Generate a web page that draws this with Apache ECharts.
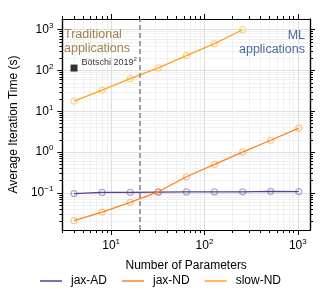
<!DOCTYPE html>
<html><head><meta charset="utf-8">
<script src="https://cdn.jsdelivr.net/npm/echarts@6/dist/echarts.min.js"></script>
<style>html,body{margin:0;padding:0;background:#fff}#c{width:330px;height:300px}</style>
</head><body><div id="c"></div>
<script>
const params = [4, 8, 16, 32, 64, 128, 256, 512, 1024];
const jaxAD = [0.097, 0.103, 0.104, 0.105, 0.106, 0.106, 0.107, 0.110, 0.108];
const jaxND = [0.021, 0.034, 0.059, 0.107, 0.25, 0.5, 1.0, 1.96, 3.9];
const slowParams = [4, 8, 16, 32, 64, 128, 256];
const slowND = [17.9, 33, 63, 116, 232, 457, 1000];
const botschi = [[4, 115]];
const dividerX = 20;
const xMajor = [10, 100, 1000];
const yMajor = [0.1, 1, 10, 100, 1000];

function minors(lo, hi) {
  const out = [];
  for (let e = lo; e <= hi; e++) for (let m = 2; m <= 9; m++) out.push(m * Math.pow(10, e));
  return out;
}
const xMinor = minors(0, 3).filter(v => v >= 3 && v <= 1350);
const yMinor = minors(-2, 3).filter(v => v >= 0.0124 && v <= 1830);

const FONT = 'Liberation Sans';
const C_AD = '#5e3c99', C_ND = '#ff8317', C_SLOW = '#ffa31f';
const fmt = v => { const e = Math.round(Math.log10(v)); return '10{e|' + (e < 0 ? '\u2212' + (-e) : e) + '}'; };
const rich = { e: { fontSize: 8, padding: [0, 0, 8, 0], fontFamily: FONT, color: '#000' } };
const X = { min: 3, max: 1350, type: 'log', logBase: 10 };
const Y = { min: 0.0124, max: 1830, type: 'log', logBase: 10 };

function ax(base, pos, major, showLabel, isX, name) {
  return Object.assign({}, base, {
    position: pos, gridIndex: 0,
    name: name || '', nameLocation: 'middle', nameGap: isX ? 30 : 27,
    nameTextStyle: { fontFamily: FONT, fontSize: 12, color: '#000' },
    axisLine: { show: true, onZero: false, lineStyle: { color: '#000', width: 1.2 } },
    axisTick: { show: true, length: major ? 5 : 3, inside: false, customValues: major ? (isX ? xMajor : yMajor) : (isX ? xMinor : yMinor), lineStyle: { color: '#000', width: 1 } },
    axisLabel: { show: showLabel, customValues: isX ? xMajor : yMajor, formatter: fmt, rich: rich, fontFamily: FONT, fontSize: 12, color: '#000', margin: isX ? 8 : 9 },
    splitLine: { show: showLabel || (!major && (pos === 'bottom' || pos === 'left')), lineStyle: { color: major ? '#dedede' : '#eeeeee', width: major ? 1 : 0.8 } },
    minorTick: { show: false }, minorSplitLine: { show: false }
  });
}

const chart = echarts.init(document.getElementById('c'), null, { renderer: 'canvas' });
chart.setOption({
  animation: false,
  backgroundColor: '#fff',
  grid: { left: 61, right: 20, top: 19, bottom: 70, containLabel: false },
  xAxis: [
    ax(X, 'bottom', false, false, true),
    ax(X, 'bottom', true, true, true, 'Number of Parameters'),
    ax(X, 'top', false, false, true),
    ax(X, 'top', true, false, true)
  ],
  yAxis: [
    ax(Y, 'left', false, false, false),
    ax(Y, 'left', true, true, false, 'Average Iteration Time (s)'),
    ax(Y, 'right', false, false, false),
    ax(Y, 'right', true, false, false)
  ],
  legend: {
    bottom: 8, left: 35, itemGap: 15, itemWidth: 22, itemHeight: 1.5, icon: 'rect',
    textStyle: { fontFamily: FONT, fontSize: 12, color: '#000', padding: [0, 0, 0, 4] },
    data: [
      { name: 'jax-AD', itemStyle: { color: C_AD, borderWidth: 0 } },
      { name: 'jax-ND', itemStyle: { color: C_ND, borderWidth: 0 } },
      { name: 'slow-ND', itemStyle: { color: C_SLOW, borderWidth: 0 } }
    ]
  },
  series: [
    {
      name: 'jax-AD', type: 'line', xAxisIndex: 1, yAxisIndex: 1,
      data: params.map((p, i) => [p, jaxAD[i]]),
      symbol: 'circle', symbolSize: 6, showAllSymbol: true,
      lineStyle: { color: C_AD, width: 1.3 },
      itemStyle: { color: 'rgba(255,255,255,0)', borderColor: 'rgba(94,60,153,0.45)', borderWidth: 1.2 },
      z: 3
    },
    {
      name: 'jax-ND', type: 'line', xAxisIndex: 1, yAxisIndex: 1,
      data: params.map((p, i) => [p, jaxND[i]]),
      symbol: 'circle', symbolSize: 6, showAllSymbol: true,
      lineStyle: { color: C_ND, width: 1.3 },
      itemStyle: { color: 'rgba(255,255,255,0)', borderColor: 'rgba(255,131,23,0.45)', borderWidth: 1.2 },
      z: 4,
      markLine: {
        silent: true, symbol: 'none', label: { show: false },
        lineStyle: { color: '#8a8a8a', type: [5, 3], width: 1.6 },
        data: [{ xAxis: dividerX }]
      }
    },
    {
      name: 'slow-ND', type: 'line', xAxisIndex: 1, yAxisIndex: 1,
      data: slowParams.map((p, i) => [p, slowND[i]]),
      symbol: 'circle', symbolSize: 6, showAllSymbol: true,
      lineStyle: { color: C_SLOW, width: 1.3 },
      itemStyle: { color: 'rgba(255,255,255,0)', borderColor: 'rgba(255,163,31,0.45)', borderWidth: 1.2 },
      z: 4
    },
    {
      name: 'Bötschi', type: 'scatter', xAxisIndex: 1, yAxisIndex: 1,
      data: botschi, symbol: 'rect', symbolSize: 7,
      itemStyle: { color: '#000' },
      label: {
        show: true, position: 'right', distance: 4, offset: [0, -6],
        formatter: 'Bötschi 2019{s|2}',
        fontFamily: FONT, fontSize: 9, color: '#000',
        rich: { s: { fontSize: 6, padding: [0, 0, 6, 0], fontFamily: FONT, color: '#000' } }
      },
      z: 5
    }
  ],
  graphic: [
    { type: 'text', x: 64, y: 28, z: 10, style: { text: 'Traditional\napplications', fill: '#a0824f', fontFamily: FONT, fontSize: 12.5, lineHeight: 14, align: 'left', verticalAlign: 'top' } },
    { type: 'text', x: 305, y: 29, z: 10, style: { text: 'ML\napplications', fill: '#4a6b9e', fontFamily: FONT, fontSize: 12.5, lineHeight: 14, align: 'right', verticalAlign: 'top' } }
  ]
});
</script></body></html>
